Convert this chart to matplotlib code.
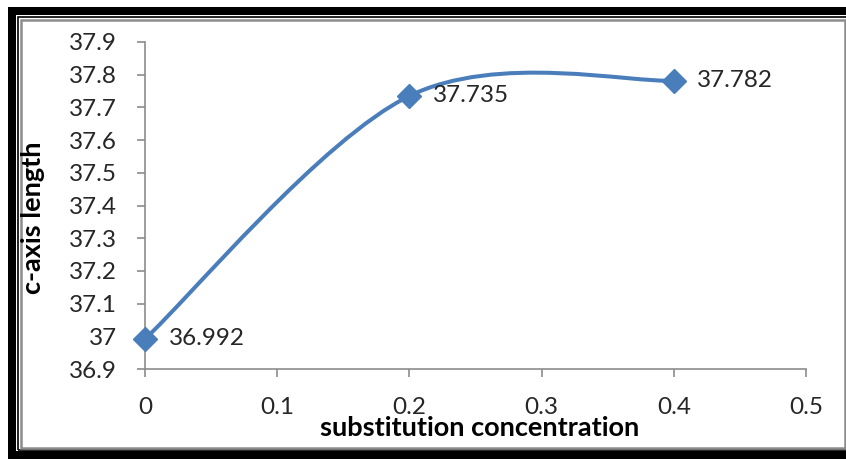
import matplotlib.pyplot as plt
import numpy as np
from matplotlib.patches import Rectangle
from matplotlib.path import Path
from matplotlib.patches import PathPatch

# Data
concentration = [0.0, 0.2, 0.4]
c_length = [36.992, 37.735, 37.782]
x_ticks = [0, 0.1, 0.2, 0.3, 0.4, 0.5]
y_ticks = [36.9, 37.0, 37.1, 37.2, 37.3, 37.4, 37.5, 37.6, 37.7, 37.8, 37.9]
y_ticklabels = ['36.9', '37', '37.1', '37.2', '37.3', '37.4', '37.5',
                '37.6', '37.7', '37.8', '37.9']

W, H = 846, 459
plt.rcParams['font.family'] = ['Lato', 'DejaVu Sans']

fig = plt.figure(figsize=(W / 100, H / 100), dpi=100)


def box(x0, y0, x1, y1, **kw):
    # rectangle given in pixel coords measured from the top-left corner
    r = Rectangle((x0 / W, 1 - y1 / H), (x1 - x0) / W, (y1 - y0) / H,
                  transform=fig.transFigure, zorder=-10, **kw)
    fig.patches.append(r)


# Frame: thick black border, thin black line, grey inner line
box(8, 7, W + 5, H + 5, facecolor='black', edgecolor='none')
box(16, 15, W + 5, 451, facecolor='white', edgecolor='none')
box(18, 17, W + 5, 450, facecolor='none', edgecolor='black', linewidth=1.2)
box(21, 20, 845, 447.5, facecolor='white', edgecolor='#8c8c8c', linewidth=1.8)

ax = fig.add_axes([145 / W, 1 - 369 / H, (806 - 145) / W, (369 - 42) / H])
ax.set_facecolor('none')

line_color = '#4a7ebb'

# Smoothed line through the points (cubic Bezier, Excel-style)
pts = np.column_stack([concentration, c_length])
verts = [pts[0]]
codes = [Path.MOVETO]
n = len(pts)
for i in range(n - 1):
    p0 = pts[i - 1] if i > 0 else pts[i]
    p1 = pts[i]
    p2 = pts[i + 1]
    p3 = pts[i + 2] if i + 2 < n else pts[i + 1]
    c1 = p1 + (p2 - p0) / 6
    c2 = p2 - (p3 - p1) / 6
    verts += [c1, c2, p2]
    codes += [Path.CURVE4] * 3
ax.add_patch(PathPatch(Path(verts, codes), facecolor='none',
                       edgecolor=line_color, linewidth=2.9, capstyle='round'))

ax.plot(concentration, c_length, linestyle='none', marker='D',
        markersize=12, color=line_color, zorder=3, clip_on=False)

for x, y in zip(concentration, c_length):
    ax.annotate(f'{y:.3f}', (x, y), xytext=(17, 0), textcoords='offset points',
                ha='left', va='center', fontsize=17.5, color='#262626')

ax.set_xlim(0, 0.5)
ax.set_ylim(36.9, 37.9)
ax.set_xticks(x_ticks)
ax.set_xticklabels(['0', '0.1', '0.2', '0.3', '0.4', '0.5'])
ax.set_yticks(y_ticks)
ax.set_yticklabels(y_ticklabels)

for s in ['top', 'right']:
    ax.spines[s].set_visible(False)
for s in ['left', 'bottom']:
    ax.spines[s].set_color('#8c8c8c')
    ax.spines[s].set_linewidth(1.2)
ax.tick_params(axis='both', direction='out', length=6, width=1.2,
               color='#8c8c8c', labelsize=17.5, labelcolor='#262626')
ax.tick_params(axis='x', pad=14)
ax.tick_params(axis='y', pad=14)

fig.text(480 / W, 1 - 428 / H, 'substitution concentration', ha='center',
         va='center', fontsize=19.5, fontweight='bold', color='black')
fig.text(33 / W, 1 - 218 / H, 'c-axis length', ha='center', va='center',
         rotation=90, fontsize=19.5, fontweight='bold', color='black')

fig.savefig('out.png', dpi=100)
